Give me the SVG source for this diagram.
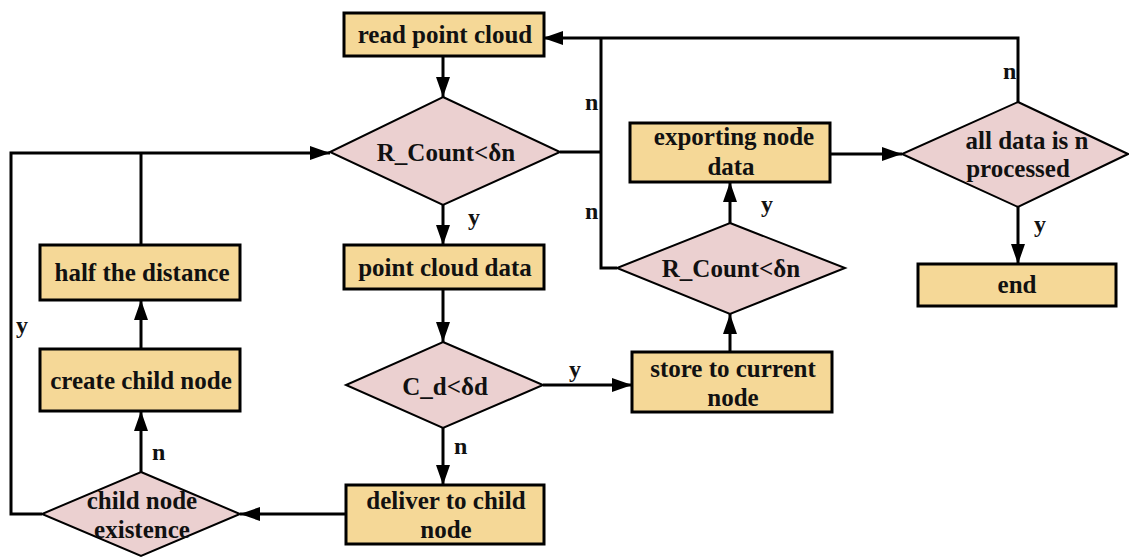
<svg xmlns="http://www.w3.org/2000/svg" width="1129" height="558" viewBox="0 0 1129 558">
<defs>
<marker id="ah" markerUnits="userSpaceOnUse" markerWidth="22" markerHeight="14" refX="20" refY="7" orient="auto">
<path d="M0,0 L20,7 L0,14 Z" fill="#000"/>
</marker>
<style>
.box{fill:#F5D897;stroke:#000;stroke-width:3}
.dia{fill:#EBD0D0;stroke:#000;stroke-width:2}
.t{font-family:"Liberation Serif","Times New Roman",serif;font-weight:bold;font-size:25px;fill:#111;text-anchor:middle}
.lbl{font-family:"Liberation Serif","Times New Roman",serif;font-weight:bold;font-size:24px;fill:#111}
.c{fill:none;stroke:#000;stroke-width:3}
.ca{fill:none;stroke:#000;stroke-width:3;marker-end:url(#ah)}
</style>
</defs>
<rect width="1129" height="558" fill="#fff"/>
<g id="connectors">
<path class="ca" d="M443,56 V97"/>
<path class="ca" d="M443,205 V245"/>
<path class="ca" d="M443,289 V342"/>
<path class="ca" d="M443,428 V485"/>
<path class="ca" d="M543,385 H632"/>
<path class="ca" d="M346,514 H240"/>
<path class="ca" d="M141,472 V411"/>
<path class="ca" d="M141,349 V300"/>
<path class="c" d="M141,245 V153"/>
<path class="ca" d="M42,514 H11 V153 H330"/>
<path class="ca" d="M730,352 V314"/>
<path class="ca" d="M730,223 V182"/>
<path class="ca" d="M830,154 H902"/>
<path class="ca" d="M1018,207 V264"/>
<path class="ca" d="M1018,102 V38 H543"/>
<path class="c" d="M617,268 H601 V38"/>
<path class="c" d="M560,152 H601"/>
<text class="lbl" x="468" y="225">y</text>
<text class="lbl" x="454" y="454">n</text>
<text class="lbl" x="569" y="377">y</text>
<text class="lbl" x="152" y="460">n</text>
<text class="lbl" x="16" y="333">y</text>
<text class="lbl" x="761" y="212">y</text>
<text class="lbl" x="1034" y="232">y</text>
<text class="lbl" x="1003" y="79">n</text>
<text class="lbl" x="585" y="110">n</text>
<text class="lbl" x="585" y="219">n</text>
</g>
<g id="read-point-cloud">
<rect class="box" x="344" y="13" width="200" height="43"/>
<text class="t" x="445" y="43">read point cloud</text>
</g>
<g id="r-count-1">
<polygon class="dia" points="443,97 560,152 443,205 330,152"/>
<text class="t" x="446" y="161">R_Count&lt;δn</text>
</g>
<g id="point-cloud-data">
<rect class="box" x="344" y="245" width="200" height="44"/>
<text class="t" x="445" y="276">point cloud data</text>
</g>
<g id="c-d">
<polygon class="dia" points="443,342 543,385 443,428 346,385"/>
<text class="t" x="445" y="395">C_d&lt;δd</text>
</g>
<g id="deliver">
<rect class="box" x="346" y="485" width="198" height="59"/>
<text class="t" x="446" y="509">deliver to child</text>
<text class="t" x="446" y="538">node</text>
</g>
<g id="child-existence">
<polygon class="dia" points="141,472 240,514 141,556 42,514"/>
<text class="t" x="142" y="509">child node</text>
<text class="t" x="142" y="538">existence</text>
</g>
<g id="create-child">
<rect class="box" x="40" y="349" width="200" height="62"/>
<text class="t" x="141" y="389">create child node</text>
</g>
<g id="half-distance">
<rect class="box" x="40" y="245" width="200" height="55"/>
<text class="t" x="142" y="281">half the distance</text>
</g>
<g id="store-current">
<rect class="box" x="632" y="352" width="200" height="60"/>
<text class="t" x="733" y="377">store to current</text>
<text class="t" x="733" y="406">node</text>
</g>
<g id="r-count-2">
<polygon class="dia" points="730,223 845,268 730,314 617,268"/>
<text class="t" x="731" y="277">R_Count&lt;δn</text>
</g>
<g id="exporting">
<rect class="box" x="630" y="123" width="200" height="59"/>
<text class="t" x="734" y="145">exporting node</text>
<text class="t" x="731" y="175">data</text>
</g>
<g id="all-processed">
<polygon class="dia" points="1018,102 1128,154 1018,207 902,154"/>
<text class="t" x="1027" y="149">all data is n</text>
<text class="t" x="1018" y="177">processed</text>
</g>
<g id="end">
<rect class="box" x="918" y="264" width="198" height="42"/>
<text class="t" x="1017" y="293">end</text>
</g>
</svg>
